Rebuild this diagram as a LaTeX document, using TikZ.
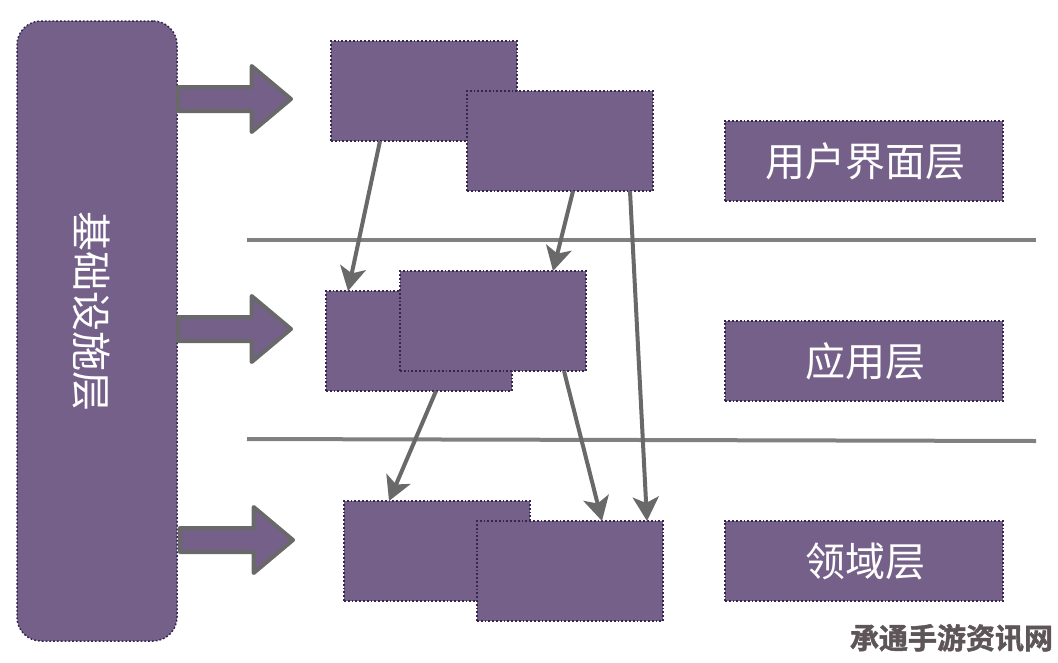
\documentclass[tikz,border=0pt]{standalone}
\usepackage{fontspec}
\usetikzlibrary{arrows.meta,shapes.arrows}
\newfontfamily\cjk{Noto Sans CJK SC}
\newfontfamily\cjkbold[FakeBold=1.6]{Noto Sans CJK SC Bold}
\definecolor{boxfill}{HTML}{75608A}
\definecolor{boxline}{HTML}{35264F}
\definecolor{conncol}{HTML}{696969}
\definecolor{rulecol}{HTML}{808080}
\definecolor{markcol}{HTML}{5E5558}
\tikzset{
  x=1pt,y=-1pt,
  plainbox/.style={draw=boxline,fill=boxfill,line width=1.5pt,dash pattern=on 1.8pt off 2pt,inner sep=0pt,outer sep=0pt,anchor=north west,minimum width=186pt,minimum height=100pt},
  labelbox/.style={plainbox,minimum width=278pt,minimum height=80pt,text=white,font=\cjk\fontsize{40}{40}\selectfont,execute at begin node=\hspace*{2pt}},
  infra/.style={plainbox,rounded corners=24pt,minimum width=160pt,minimum height=620pt},
  blockarrow/.style={shape=single arrow,draw=conncol,fill=boxfill,line width=4pt,line join=round,inner sep=0pt,inner ysep=10pt,inner xsep=0pt,single arrow tip angle=80,single arrow head extend=21pt,minimum height=113pt,minimum width=64pt,anchor=west,outer sep=0pt},
  conn/.style={draw=conncol,line width=4pt,-{Stealth[length=24pt,width=26pt,inset=6pt]}},
  divider/.style={draw=rulecol,line width=4pt},
}
\begin{document}
\begin{tikzpicture}
\useasboundingbox[fill=white] (0,0) rectangle (1058,662);
% divider lines
\coordinate (d1a) at (247,240); \coordinate (d1b) at (1036,240);
\coordinate (d2a) at (247,439); \coordinate (d2b) at (1036,441);
\draw[divider] (d1a) -- (d1b);
\draw[divider] (d2a) -- (d2b);
% infrastructure
\node[infra] (infra) at (17,21) {};
\node[text=white,font=\cjk\fontsize{40}{40}\selectfont,rotate=-90] (infralabel) at (92,311) {基础设施层};
% block arrows
\node[blockarrow] (ba1) at (178,99) {};
\node[blockarrow] (ba2) at (178,329) {};
\node[blockarrow] (ba3) at (180,540) {};
% boxes
\node[plainbox] (ui1) at (331,41) {};
\node[plainbox] (ui2) at (467,91) {};
\node[plainbox] (app1) at (326,291) {};
\node[plainbox] (app2) at (400,271) {};
\node[plainbox] (dom1) at (344,501) {};
\node[plainbox] (dom2) at (477,521) {};
% layer labels
\node[labelbox] (l1) at (725,121) {用户界面层};
\node[labelbox] (l2) at (725,321) {应用层};
\node[labelbox] (l3) at (725,521) {领域层};
% connectors
\draw[conn] ([xshift=49pt]ui1.south west) -- ([xshift=22pt]app1.north west);
\draw[conn] ([xshift=106pt]ui2.south west) -- ([xshift=153pt]app2.north west);
\draw[conn] ([xshift=163pt]ui2.south west) -- ([xshift=170pt]dom2.north west);
\draw[conn] ([xshift=110pt]app1.south west) -- ([xshift=45pt]dom1.north west);
\draw[conn] ([xshift=164pt]app2.south west) -- ([xshift=125pt]dom2.north west);
% watermark
\node[text=markcol,font=\cjkbold\fontsize{29}{29}\selectfont,anchor=center,inner sep=0pt] (mark) at (951.5,638) {承通手游资讯网};
\end{tikzpicture}
\end{document}
